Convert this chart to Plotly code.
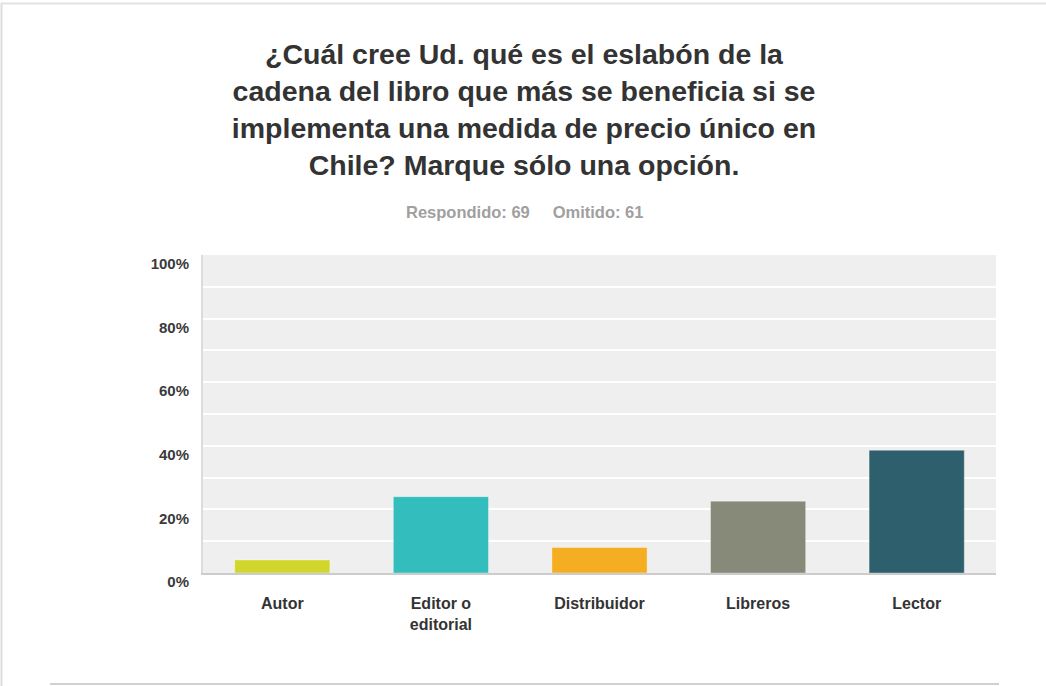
import plotly.graph_objects as go

categories = ["Autor", "Editor o<br>editorial", "Distribuidor", "Libreros", "Lector"]
values = [4.1, 24.0, 8.0, 22.6, 38.6]
colors = ["#d1d62c", "#33bdbd", "#f5ae21", "#878a78", "#2e5f6c"]
y_ticks = [0, 20, 40, 60, 80, 100]
y_tick_labels = ["0%", "20%", "40%", "60%", "80%", "100%"]

title_text = ("¿Cuál cree Ud. qué es el eslabón de la<br>"
              "cadena del libro que más se beneficia si se<br>"
              "implementa una medida de precio único en<br>"
              "Chile? Marque sólo una opción.")
subtitle_text = "Respondido: 69\u00a0\u00a0\u00a0\u00a0\u00a0Omitido: 61"

W, H = 1046, 686
L, R, T, B = 203, 50, 255, 113
pw, ph = W - L - R, H - T - B
FONT = "Liberation Sans, Arial, sans-serif"

def px_x(x):
    return (x - L) / pw

def px_y(y):
    return (H - B - y) / ph

fig = go.Figure(go.Bar(
    x=categories, y=values,
    marker=dict(color=colors, line=dict(color="rgba(255,255,255,0.35)", width=1)),
    hoverinfo="skip",
))

fig.update_layout(
    width=W, height=H,
    margin=dict(l=L, r=R, t=T, b=B),
    paper_bgcolor="white",
    plot_bgcolor="#efefef",
    bargap=0.4,
    showlegend=False,
    font=dict(family=FONT, color="#333333"),
    title=dict(
        text=title_text,
        x=524 / W, xanchor="center", xref="container",
        y=1 - 64 / H, yanchor="top", yref="container",
        font=dict(size=28.5, color="#333333", family=FONT, weight="bold"),
    ),
    annotations=[dict(
        text=subtitle_text, xref="paper", yref="paper",
        x=px_x(524), y=px_y(212), xanchor="center", yanchor="middle",
        showarrow=False,
        font=dict(size=16.5, color="#a0a0a0", family=FONT, weight="bold"),
    )],
    shapes=[
        dict(type="line", xref="paper", yref="paper", x0=px_x(1.5), x1=px_x(1.5), y0=px_y(3), y1=px_y(686),
             line=dict(color="#dddddd", width=2)),
        dict(type="line", xref="paper", yref="paper", x0=px_x(1), x1=px_x(1046), y0=px_y(3.5), y1=px_y(3.5),
             line=dict(color="#e2e2e2", width=2)),
        dict(type="line", xref="paper", yref="paper", x0=px_x(50), x1=px_x(999), y0=px_y(684), y1=px_y(684),
             line=dict(color="#d0d0d0", width=2)),
    ],
)

fig.update_yaxes(
    range=[0, 100],
    tickmode="array",
    tickvals=y_ticks,
    ticktext=y_tick_labels,
    showgrid=True, gridcolor="white", gridwidth=2,
    minor=dict(dtick=10, showgrid=True, gridcolor="white", gridwidth=2),
    showline=True, linecolor="#dcdcdc", linewidth=2,
    zeroline=False,
    ticks="", ticklabelstandoff=9, ticklabelshift=9,
    tickfont=dict(size=15, color="#3a3a3a", family=FONT, weight="bold"),
    fixedrange=True,
)
fig.update_xaxes(
    showline=True, linecolor="#cccccc", linewidth=2,
    showgrid=False, ticks="", ticklabelstandoff=15,
    tickfont=dict(size=16, color="#333333", family=FONT, weight="bold"),
    fixedrange=True,
)

fig.write_html(
    "out.html",
    config={"displayModeBar": False},
    post_script="document.body.style.margin='0';document.body.style.overflow='hidden';",
)
